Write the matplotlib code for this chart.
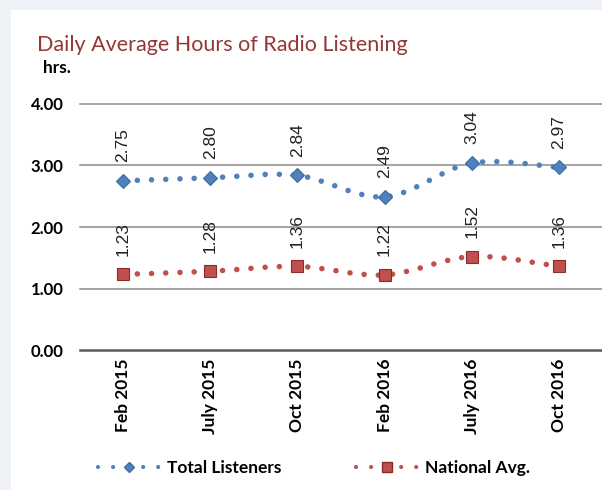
import matplotlib.pyplot as plt
import numpy as np
from matplotlib.path import Path
from matplotlib.patches import PathPatch, Rectangle
from matplotlib.lines import Line2D

## chart values
months = ["Feb 2015", "July 2015", "Oct 2015", "Feb 2016", "July 2016", "Oct 2016"]
total_listeners = [2.75, 2.80, 2.84, 2.49, 3.04, 2.97]
national_avg = [1.23, 1.28, 1.36, 1.22, 1.52, 1.36]
yticks = [0.0, 1.0, 2.0, 3.0, 4.0]

blue = "#4F81BD"
red = "#C0504D"
calibri = ["Lato", "DejaVu Sans"]
arial = ["Liberation Sans", "DejaVu Sans"]

dots = (0, (0.01, 2.55))
lw = 4.0


def smooth_path(xs, ys):
    ## bezier path through the points (like the smoothed line option in excel)
    pts = np.column_stack([xs, ys]).astype(float)
    verts = [pts[0]]
    codes = [Path.MOVETO]
    n = len(pts)
    for i in range(n - 1):
        p0 = pts[max(i - 1, 0)]
        p1 = pts[i]
        p2 = pts[i + 1]
        p3 = pts[min(i + 2, n - 1)]
        c1 = p1 + (p2 - p0) / 6.0
        c2 = p2 - (p3 - p1) / 6.0
        verts += [c1, c2, p2]
        codes += [Path.CURVE4] * 3
    return Path(verts, codes)


fig = plt.figure(figsize=(6.02, 4.90), dpi=100)
fig.patch.set_facecolor("#eef2f6")
fig.patches.append(Rectangle((11 / 602, 0), 1, 480 / 490, transform=fig.transFigure,
                             facecolor="white", edgecolor="none", zorder=-5))

ax = fig.add_axes([79.5 / 602, 140 / 490, 523 / 602, 246 / 490])
ax.set_zorder(2)
ax.set_facecolor("none")
x = np.arange(len(months))

for vals, col, mk, ms, ec in [(total_listeners, blue, "D", 7, "#3A6CA8"),
                              (national_avg, red, "s", 8, "#8C2B28")]:
    patch = PathPatch(smooth_path(x, vals), fill=False, edgecolor=col, zorder=3,
                      linestyle=dots, linewidth=lw, capstyle="round")
    ax.add_patch(patch)
    ax.plot(x, vals, linestyle="none", marker=mk, markersize=ms, markerfacecolor=col,
            markeredgecolor=ec, markeredgewidth=0.8, zorder=4)
    for xi, v in zip(x, vals):
        ax.annotate(f"{v:.2f}", (xi, v), xytext=(0, 13.5), textcoords="offset points",
                    rotation=90, ha="center", va="bottom", fontsize=12.5,
                    family=arial, color="#222222", zorder=5)

ax.set_xlim(-0.5, len(months) - 0.5)
ax.set_ylim(0, 4)
ax.set_yticks(yticks)
ax.set_yticklabels([f"{t:.2f}" for t in yticks], fontsize=12, fontweight="bold", family=calibri)
ax.set_xticks(x)
ax.set_xticklabels(months, rotation=90, fontsize=12.5, fontweight="bold", family=calibri)
ax.tick_params(axis="x", length=0, pad=6)
ax.tick_params(axis="y", length=0, pad=11.5)

for t in yticks[1:]:
    ax.axhline(t, color="#8c8c8c", linewidth=1.1, zorder=1, clip_on=False)
ax.axhline(0, color="#595959", linewidth=1.8, zorder=2, clip_on=False)

for s in ax.spines.values():
    s.set_visible(False)

fig.text(37 / 602, 1 - 51 / 490, "Daily Average Hours of Radio Listening", fontsize=15.5,
         color="#953735", family=calibri, va="baseline", ha="left")
fig.text(43 / 602, 1 - 73 / 490, "hrs.", fontsize=12.5, fontweight="bold", family=calibri,
         va="baseline", ha="left")

leg_dots = (0, (0.01, 3.6))
handles = [Line2D([], [], color=blue, marker="D", markersize=5, markerfacecolor=blue,
                  markeredgecolor="#3A6CA8", linestyle=leg_dots, linewidth=3,
                  dash_capstyle="round"),
           Line2D([], [], color=red, marker="s", markersize=7, markerfacecolor=red,
                  markeredgecolor="#8C2B28", linestyle=leg_dots, linewidth=3,
                  dash_capstyle="round")]
fig.legend(handles, ["Total Listeners", "National Avg."], loc="center",
           bbox_to_anchor=(314 / 602, 1 - 468 / 490), ncol=2, frameon=False,
           handlelength=3.56, handletextpad=0.4, columnspacing=4.3,
           prop={"family": calibri, "weight": "bold", "size": 12.5})

fig.savefig("out.png", dpi=100, facecolor=fig.get_facecolor())
